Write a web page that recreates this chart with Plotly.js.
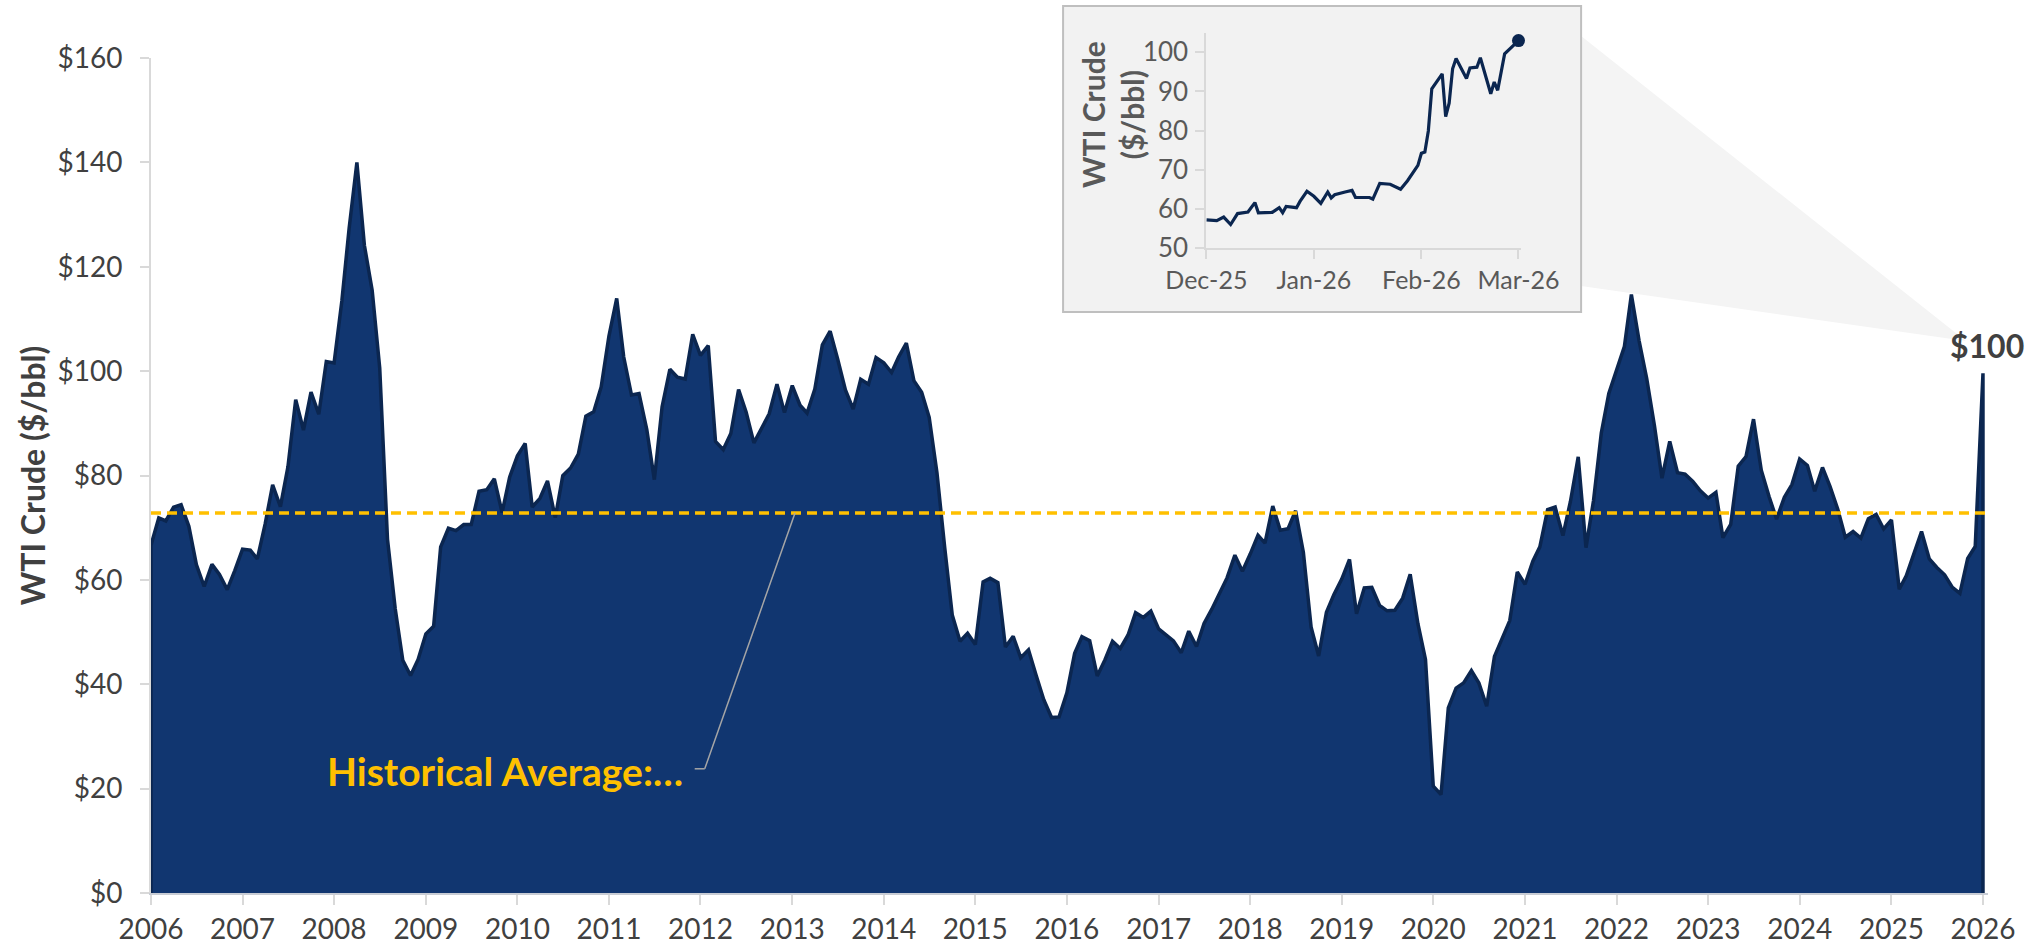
<!DOCTYPE html>
<html>
<head>
<meta charset="utf-8">
<script src="https://cdn.plot.ly/plotly-3.0.1.min.js"></script>
<style>
  html, body { margin: 0; padding: 0; background: #ffffff; }
  #chart { width: 2043px; height: 947px; }
</style>
</head>
<body>
<div id="chart"></div>
<script>
// ---------------- DATA ----------------
// Monthly WTI crude values as plotted, first point at Jan 2006 position
const firstYear = 2006;
const wtiMonthly = [
  66.63, 71.88, 71.29, 73.93, 74.40, 70.26, 62.91, 58.73, 62.97, 61.05, 58.14, 61.79,   // 2006
  65.87, 65.71, 64.01, 70.68, 78.21, 74.04, 81.66, 94.53, 88.71, 95.98, 91.75, 101.84,  // 2007
  101.58, 113.46, 127.35, 140.00, 124.08, 115.46, 100.64, 67.81, 54.43, 44.60, 41.68, 44.76, // 2008
  49.66, 51.12, 66.31, 69.89, 69.45, 70.61, 70.61, 77.00, 77.28, 79.36, 72.89, 79.66,   // 2009
  83.76, 86.15, 73.97, 75.63, 78.95, 71.92, 79.97, 81.43, 84.11, 91.38, 92.19, 96.97,   // 2010
  106.72, 113.93, 102.70, 95.42, 95.70, 88.81, 79.20, 93.19, 100.36, 98.83, 98.48, 107.07, // 2011
  103.02, 104.87, 86.53, 84.96, 88.06, 96.47, 92.19, 86.24, 88.91, 91.82, 97.49, 92.05, // 2012
  97.23, 93.46, 91.97, 96.56, 105.03, 107.65, 102.33, 96.38, 92.72, 98.42, 97.49, 102.59, // 2013
  101.58, 99.74, 102.71, 105.37, 98.17, 95.96, 91.16, 80.54, 66.15, 53.27, 48.24, 49.76, // 2014
  47.60, 59.63, 60.30, 59.47, 47.12, 49.20, 45.09, 46.59, 41.65, 37.04, 33.62, 33.75,   // 2015
  38.34, 45.92, 49.10, 48.33, 41.60, 44.70, 48.24, 46.86, 49.44, 53.72, 52.81, 54.01,   // 2016
  50.60, 49.33, 48.32, 46.04, 50.17, 47.23, 51.67, 54.38, 57.40, 60.42, 64.73, 61.64,   // 2017
  64.94, 68.57, 67.04, 74.15, 69.50, 69.80, 73.25, 65.31, 50.93, 45.41, 53.79, 57.22,   // 2018
  60.14, 63.91, 53.50, 58.47, 58.58, 55.10, 54.07, 54.18, 56.50, 61.06, 51.56, 44.76,   // 2019
  20.48, 18.84, 35.49, 39.27, 40.27, 42.61, 40.22, 35.79, 45.34, 48.52, 52.20, 61.50,   // 2020
  59.16, 63.58, 66.32, 73.47, 73.95, 68.50, 75.03, 83.57, 66.18, 75.21, 88.15, 95.72,   // 2021
  100.28, 104.69, 114.67, 105.76, 98.62, 89.55, 79.49, 86.53, 80.55, 80.26, 78.87, 77.05, // 2022
  75.67, 76.78, 68.09, 70.64, 81.80, 83.63, 90.79, 81.02, 75.96, 71.65, 75.85, 78.26,   // 2023
  83.17, 81.93, 77.00, 81.54, 77.91, 73.55, 68.17, 69.26, 68.00, 71.72, 72.53, 69.76,   // 2024
  71.48, 58.21, 60.79, 65.11, 69.26, 64.01, 62.37, 60.98, 58.55, 57.42, 64.10, 66.40,   // 2025
  99.60                                                                                 // 2026
];
const historicalAverage = 72.8;

// Inset: recent daily WTI crude
const insetDates = [
  '2025-12-01','2025-12-04','2025-12-06','2025-12-08','2025-12-10','2025-12-13','2025-12-15',
  '2025-12-16','2025-12-20','2025-12-22','2025-12-23','2025-12-24','2025-12-27','2025-12-28',
  '2025-12-30','2026-01-01','2026-01-03','2026-01-05','2026-01-06','2026-01-07','2026-01-10',
  '2026-01-12','2026-01-13','2026-01-17','2026-01-18','2026-01-20','2026-01-23','2026-01-25',
  '2026-01-26','2026-01-28','2026-01-31','2026-02-01','2026-02-02','2026-02-03','2026-02-04',
  '2026-02-07','2026-02-08','2026-02-09','2026-02-10','2026-02-11','2026-02-14','2026-02-15',
  '2026-02-17','2026-02-18','2026-02-21','2026-02-22','2026-02-23','2026-02-25','2026-03-01'
];
const insetValues = [
  57.2, 57.0, 57.9, 56.0, 58.8, 59.2, 61.6,
  59.0, 59.1, 60.3, 59.0, 60.6, 60.3, 61.9,
  64.5, 63.2, 61.4, 64.3, 62.8, 63.6, 64.3,
  64.7, 62.9, 62.9, 62.5, 66.5, 66.3, 65.4,
  65.0, 67.2, 71.1, 74.2, 74.5, 79.9, 90.7,
  94.5, 83.6, 87.0, 95.8, 98.4, 93.3, 96.0,
  96.2, 98.6, 89.4, 92.4, 90.3, 99.6, 103.0
];

const yAxisTitle = 'WTI Crude ($/bbl)';
const avgLabel = 'Historical Average:…';

// ---------------- BUILD ----------------
const pad = n => (n < 10 ? '0' : '') + n;
const monthDates = wtiMonthly.map((_, i) => (firstYear + Math.floor(i / 12)) + '-' + pad(i % 12 + 1) + '-01');
const firstDate = monthDates[0];
const lastDate = monthDates[monthDates.length - 1];
const lastValue = wtiMonthly[wtiMonthly.length - 1];

const FONT = 'Lato, "Open Sans", "DejaVu Sans", sans-serif';
const NAVY_FILL = '#113670';
const NAVY_LINE = '#0b2650';
const GOLD = '#FFC000';

const traces = [
  {
    x: [firstDate].concat(monthDates, [lastDate]),
    y: [0].concat(wtiMonthly, [0]),
    type: 'scatter', mode: 'lines', fill: 'toself',
    fillcolor: NAVY_FILL,
    line: { color: NAVY_LINE, width: 3.5 },
    hoverinfo: 'skip', xaxis: 'x', yaxis: 'y'
  },
  {
    x: insetDates, y: insetValues,
    type: 'scatter', mode: 'lines',
    line: { color: NAVY_LINE, width: 3.2 },
    cliponaxis: false,
    hoverinfo: 'skip', xaxis: 'x2', yaxis: 'y2'
  },
  {
    x: [insetDates[insetDates.length - 1]], y: [insetValues[insetValues.length - 1]],
    type: 'scatter', mode: 'markers',
    marker: { color: NAVY_LINE, size: 13 },
    cliponaxis: false,
    hoverinfo: 'skip', xaxis: 'x2', yaxis: 'y2'
  }
];

const layout = {
  width: 2043, height: 947,
  margin: { l: 151, r: 55, t: 0, b: 54, pad: 0 },
  paper_bgcolor: '#ffffff',
  plot_bgcolor: 'rgba(0,0,0,0)',
  showlegend: false,
  font: { family: FONT, color: '#404040' },
  xaxis: {
    type: 'date', domain: [0, 1], anchor: 'y',
    range: ['2006-01-01', '2026-01-21'],
    tick0: '2006-01-01', dtick: 'M12', tickformat: '%Y',
    ticks: 'outside', ticklen: 10, tickwidth: 2, tickcolor: '#d9d9d9',
    showline: true, linecolor: '#c8ccd4', linewidth: 2,
    showgrid: false, zeroline: false,
    tickfont: { family: FONT, size: 28, color: '#404040' }
  },
  yaxis: {
    domain: [0, 0.93505], anchor: 'x',
    range: [0, 160], dtick: 20, tickprefix: '$',
    ticks: 'outside', ticklen: 9, tickwidth: 2, tickcolor: '#d9d9d9',
    ticklabelstandoff: 12,
    showline: true, linecolor: '#d9d9d9', linewidth: 2,
    showgrid: false, zeroline: false,
    tickfont: { family: FONT, size: 28, color: '#404040' },
    title: { text: yAxisTitle, standoff: 2, font: { family: FONT, size: 32, color: '#404040', weight: 'bold' } }
  },
  xaxis2: {
    type: 'date', domain: [0.5745, 0.7456], anchor: 'y2',
    range: ['2025-12-01', '2026-03-01 15:00'],
    tick0: '2025-12-01', dtick: 'M1', tickformat: '%b-%y',
    ticks: 'outside', ticklen: 9, tickwidth: 2, tickcolor: '#d9d9d9',
    showline: true, linecolor: '#d9d9d9', linewidth: 2,
    showgrid: false, zeroline: false,
    tickfont: { family: FONT, size: 25, color: '#595959' }
  },
  yaxis2: {
    domain: [0.7223, 0.9633], anchor: 'x2',
    range: [50, 105], dtick: 10,
    ticks: 'outside', ticklen: 9, tickwidth: 2, tickcolor: '#d9d9d9',
    ticklabelstandoff: 2,
    showline: true, linecolor: '#d9d9d9', linewidth: 2,
    showgrid: false, zeroline: false,
    tickfont: { family: FONT, size: 26, color: '#595959' }
  },
  shapes: [
    // zoom "funnel" from inset to the latest point
    {
      type: 'path', xref: 'paper', yref: 'paper', layer: 'below',
      path: 'M 0.7785 0.9597 L 0.9880 0.6181 L 0.7785 0.6797 Z',
      fillcolor: '#f4f4f4', line: { width: 0 }
    },
    // inset panel
    {
      type: 'rect', xref: 'paper', yref: 'paper', layer: 'below',
      x0: 0.4965, x1: 0.7785, y0: 0.6506, y1: 0.9933,
      fillcolor: '#f2f2f2', line: { color: '#bfbfbf', width: 2 }
    },
    // historical average
    {
      type: 'line', xref: 'x domain', yref: 'y', layer: 'above',
      x0: 0, x1: 1, y0: historicalAverage, y1: historicalAverage,
      line: { color: GOLD, width: 3.5, dash: '10px,6px' }
    },
    // leader line of the label
    {
      type: 'line', xref: 'x', yref: 'y', layer: 'above',
      x0: '2011-12-09', x1: '2012-01-18', y0: 23.8, y1: 23.8,
      line: { color: '#a6a6a6', width: 1.5 }
    },
    {
      type: 'line', xref: 'x', yref: 'y', layer: 'above',
      x0: '2012-01-18', x1: '2013-01-12', y0: 23.8, y1: historicalAverage,
      line: { color: '#a6a6a6', width: 1.5 }
    }
  ],
  annotations: [
    {
      text: avgLabel, xref: 'x', yref: 'y',
      x: '2011-11-01', y: 23.4, xanchor: 'right', yanchor: 'middle',
      showarrow: false,
      font: { family: FONT, size: 39, color: GOLD, weight: 'bold' }
    },
    {
      text: '$' + Math.round(lastValue), xref: 'x', yref: 'y',
      x: lastDate, y: lastValue, xanchor: 'center', yanchor: 'bottom',
      xshift: 4, yshift: 6, showarrow: false,
      font: { family: FONT, size: 32, color: '#404040', weight: 'bold' }
    },
    {
      text: 'WTI Crude<br>($/bbl)', xref: 'paper', yref: 'paper',
      x: 0.5231, y: 0.8723, xanchor: 'center', yanchor: 'middle',
      textangle: -90, showarrow: false,
      font: { family: FONT, size: 30, color: '#595959', weight: 'bold' }
    }
  ]
};

Plotly.newPlot('chart', traces, layout, { displayModeBar: false, staticPlot: true });
</script>
</body>
</html>
